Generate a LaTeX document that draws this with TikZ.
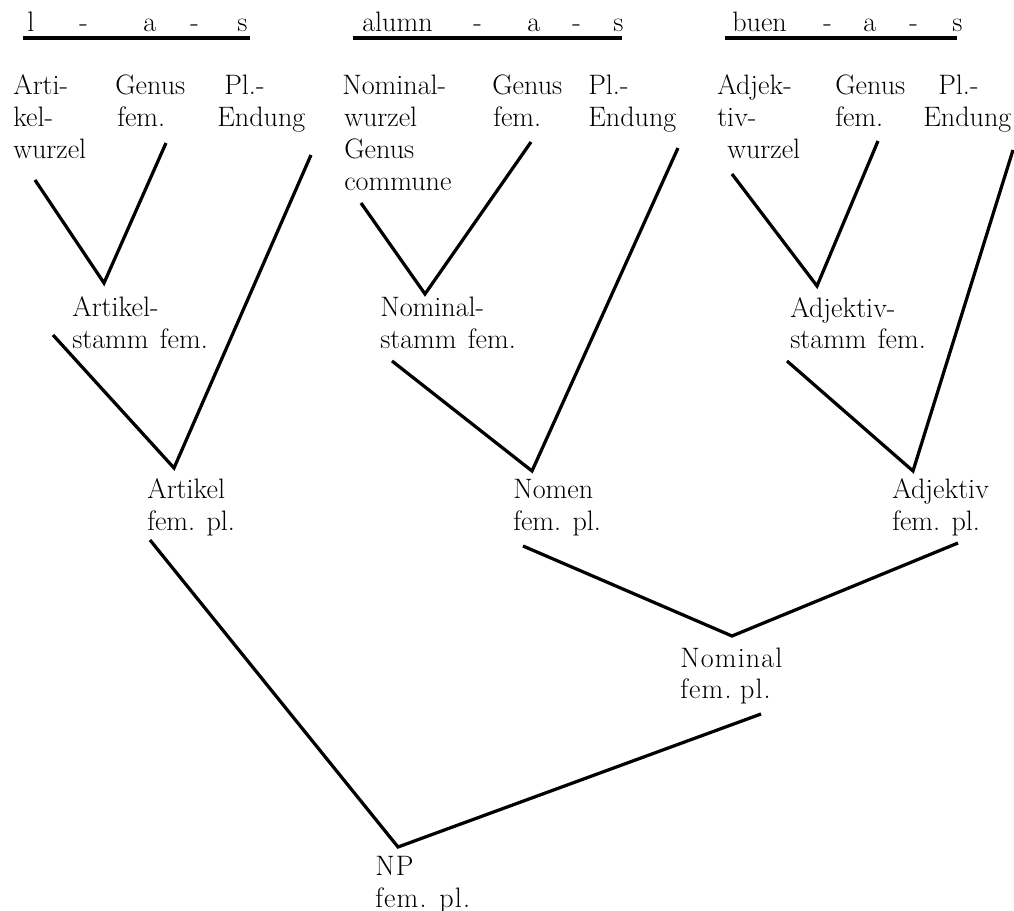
\documentclass[tikz,border=0pt]{standalone}
\usepackage{fontspec}
\setmainfont{Latin Modern Roman}
\begin{document}
\begin{tikzpicture}[x=0.025cm,y=-0.025cm,
  lbl/.style={anchor=base west, inner sep=0pt, font=\fontsize{20}{24}\selectfont},
  wide/.style={lbl, font=\fontsize{20}{24}\selectfont\addfontfeature{LetterSpace=4}},
  edge/.style={line width=2.3pt},
  rule/.style={line width=2.3pt}]
\useasboundingbox (0,0) rectangle (1014,911);

% ---- segmented word forms ----
\node[lbl] (w1a) at (27,32) {l};
\node[lbl] (w1b) at (79,32) {-};
\node[lbl] (w1c) at (143,32) {a};
\node[lbl] (w1d) at (190,32) {-};
\node[lbl] (w1e) at (237,32) {s};
\coordinate (u1s) at (23,38); \coordinate (u1e) at (250,38);
\draw[rule] (u1s) -- (u1e);

\node[lbl] (w2a) at (362,32) {alumn};
\node[lbl] (w2b) at (473,32) {-};
\node[lbl] (w2c) at (527,32) {a};
\node[lbl] (w2d) at (572,32) {-};
\node[lbl] (w2e) at (613,32) {s};
\coordinate (u2s) at (353,38); \coordinate (u2e) at (622,38);
\draw[rule] (u2s) -- (u2e);

\node[lbl] (w3a) at (732,32) {buen};
\node[lbl] (w3b) at (823,32) {-};
\node[lbl] (w3c) at (863,32) {a};
\node[lbl] (w3d) at (909,32) {-};
\node[lbl] (w3e) at (952,32) {s};
\coordinate (u3s) at (725,38); \coordinate (u3e) at (957,38);
\draw[rule] (u3s) -- (u3e);

% ---- morpheme labels ----
\node[lbl] (artw1) at (13,95)  {Arti-};
\node[lbl] (artw2) at (13,127) {kel-};
\node[lbl] (artw3) at (13,159) {wurzel};
\node[lbl] (gen1a) at (115,95)  {Genus};
\node[lbl] (gen1b) at (117,127) {fem.};
\node[lbl] (pl1a)  at (224,95)  {Pl.-};
\node[lbl] (pl1b)  at (217,127) {Endung};

\node[lbl] (nomw1) at (342,95)  {Nominal-};
\node[lbl] (nomw2) at (344,127) {wurzel};
\node[lbl] (nomw3) at (344,159) {Genus};
\node[lbl] (nomw4) at (344,191) {commune};
\node[lbl] (gen2a) at (492,95)  {Genus};
\node[lbl] (gen2b) at (493,127) {fem.};
\node[lbl] (pl2a)  at (588,95)  {Pl.-};
\node[lbl] (pl2b)  at (588,127) {Endung};

\node[lbl] (adjw1) at (717,95)  {Adjek-};
\node[lbl] (adjw2) at (717,127) {tiv-};
\node[lbl] (adjw3) at (727,159) {wurzel};
\node[lbl] (gen3a) at (835,95)  {Genus};
\node[lbl] (gen3b) at (835,127) {fem.};
\node[lbl] (pl3a)  at (938,95)  {Pl.-};
\node[lbl] (pl3b)  at (923,127) {Endung};

% ---- stems ----
\node[lbl] (arts1) at (72,317)  {Artikel-};
\node[lbl] (arts2) at (72,349)  {stamm\hspace{0.4em}fem.};
\node[lbl] (noms1) at (380,317) {Nominal-};
\node[lbl] (noms2) at (380,349) {stamm\hspace{0.4em}fem.};
\node[lbl] (adjs1) at (790,318) {Adjektiv-};
\node[lbl] (adjs2) at (790,349) {stamm\hspace{0.4em}fem.};

% ---- words ----
\node[lbl] (art1) at (147,499) {Artikel};
\node[lbl] (art2) at (147,531) {fem. pl.};
\node[lbl] (nom1) at (513,499) {Nomen};
\node[lbl] (nom2) at (513,531) {fem. pl.};
\node[lbl] (adj1) at (892,499) {Adjektiv};
\node[lbl] (adj2) at (892,531) {fem. pl.};

% ---- phrases ----
\node[wide] (nl1) at (680,667) {Nominal};
\node[wide] (nl2) at (680,698) {fem.\hspace{0.3em}pl.};
\node[wide] (np1) at (375,875) {NP};
\node[wide] (np2) at (375,907) {fem. pl.};

% ---- branch end points ----
\coordinate (a1L) at (35,180);  \coordinate (a1G) at (166,143); \coordinate (v1) at (104,283);
\coordinate (s1)  at (53,335);  \coordinate (a1P) at (311,155); \coordinate (v2) at (174,468);
\coordinate (a2L) at (361,203); \coordinate (a2G) at (531,142); \coordinate (v3) at (425,294);
\coordinate (s2)  at (392,361); \coordinate (a2P) at (678,148); \coordinate (v4) at (532,471);
\coordinate (a3L) at (732,174); \coordinate (a3G) at (878,141); \coordinate (v5) at (817,286);
\coordinate (s3)  at (787,361); \coordinate (a3P) at (1013,150); \coordinate (v6) at (913,471);
\coordinate (nL)  at (523,546); \coordinate (nR)  at (958,543); \coordinate (v7) at (732,636);
\coordinate (pL)  at (150,540); \coordinate (pR)  at (761,714); \coordinate (v8) at (398,847);

% ---- branches ----
\draw[edge] (a1L) -- (v1) -- (a1G);
\draw[edge] (s1)  -- (v2) -- (a1P);
\draw[edge] (a2L) -- (v3) -- (a2G);
\draw[edge] (s2)  -- (v4) -- (a2P);
\draw[edge] (a3L) -- (v5) -- (a3G);
\draw[edge] (s3)  -- (v6) -- (a3P);
\draw[edge] (nL)  -- (v7) -- (nR);
\draw[edge] (pL)  -- (v8) -- (pR);
\end{tikzpicture}
\end{document}
